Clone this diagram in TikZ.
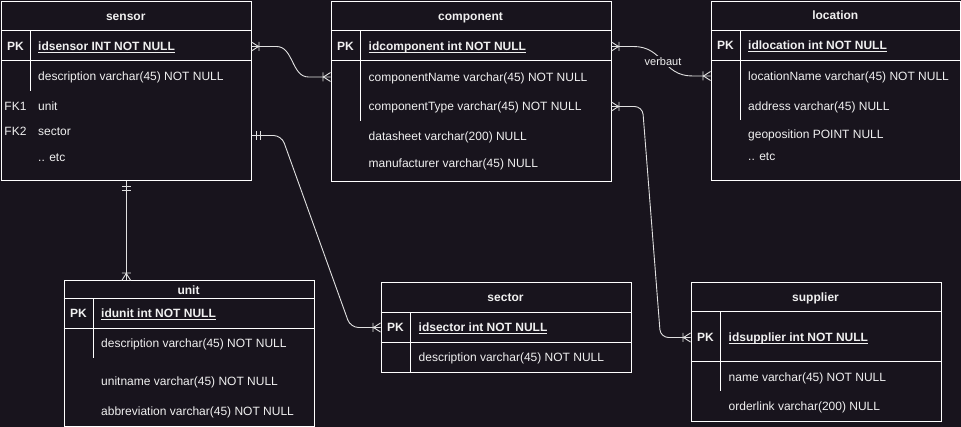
\documentclass[tikz,border=0pt]{standalone}
\usepackage{fontspec}
\setmainfont{Liberation Sans}
\usepackage{xcolor}
\usepackage{tikz}
\usetikzlibrary{arrows.meta, positioning}

\definecolor{bgdark}{HTML}{18141D}
\definecolor{fgtext}{HTML}{F0F0F0}
\definecolor{relgray}{HTML}{E0E0E0}

% underline sitting close to the baseline, as in the schema tool
\newcommand{\pkul}[1]{\setbox0\hbox{#1}\rlap{\rule[-1.6pt]{\wd0}{0.8pt}}\box0}

\begin{document}
\begin{tikzpicture}[
  x=1pt, y=-1pt,
  tbl/.style={draw=white, fill=bgdark, line width=1pt, inner sep=0pt, anchor=north west},
  sep/.style={draw=white, line width=1pt},
  txt/.style={text=fgtext, inner sep=0pt, text height=8.6pt, text depth=0pt,
              font=\fontsize{12}{14}\selectfont},
  hdr/.style={txt, font=\fontsize{12}{14}\selectfont\bfseries},
  key/.style={txt, font=\fontsize{12}{14}\selectfont\bfseries},
  fk/.style={txt},
  fld/.style={txt, anchor=west},
  pkfld/.style={fld, font=\fontsize{12}{14}\selectfont\bfseries},
  rel/.style={draw=relgray, line width=0.9pt},
  lbl/.style={fill=bgdark, text=fgtext, inner sep=1.5pt, font=\fontsize{11}{13}\selectfont},
  onemany/.pic={\draw[relgray, line width=0.9pt] (-7.5,-4.5) -- (-7.5,4.5)
                  (0,-4.5) -- (-7,0) -- (0,4.5);},
  oneone/.pic={\draw[relgray, line width=0.9pt] (-5,-4.5) -- (-5,4.5)
                  (-8.5,-4.5) -- (-8.5,4.5);},
]
\useasboundingbox (0,0) rectangle (961,427);
\fill[bgdark] (0,0) rectangle (961,427);

% tables
\node[tbl, minimum width=249.5pt, minimum height=179pt]   (sensor)    at (1,1.5)     {};
\node[tbl, minimum width=280pt,   minimum height=179.5pt] (component) at (330.5,1.5) {};
\node[tbl, minimum width=249.5pt, minimum height=179.5pt] (location)  at (710.5,1)   {};
\node[tbl, minimum width=250pt,   minimum height=145pt]   (unit)      at (63.5,280.5) {};
\node[tbl, minimum width=250pt,   minimum height=89.5pt]  (sector)    at (380.5,282.5) {};
\node[tbl, minimum width=250pt,   minimum height=138.5pt] (supplier)  at (690.5,282) {};

% row separators and key columns
\draw[sep] (1,31) -- (250.5,31) (1,61) -- (250.5,61) (30.5,31) -- (30.5,91);
\draw[sep] (330.5,31) -- (610.5,31) (330.5,61) -- (610.5,61) (360.5,31) -- (360.5,121);
\draw[sep] (710.5,30.5) -- (960,30.5) (710.5,60.5) -- (960,60.5) (740.5,30.5) -- (740.5,120);
\draw[sep] (63.5,298.5) -- (313.5,298.5) (63.5,328.5) -- (313.5,328.5) (93.5,298.5) -- (93.5,358);
\draw[sep] (380.5,312.5) -- (630.5,312.5) (380.5,342.5) -- (630.5,342.5) (410.5,312.5) -- (410.5,372);
\draw[sep] (690.5,311.5) -- (940.5,311.5) (690.5,361.5) -- (940.5,361.5) (720.5,311.5) -- (720.5,391);

% sensor
\node[hdr]   (s-title) at (125.75,16.5) {sensor};
\node[key]   (s-key)   at (15.5,46.5)   {PK};
\node[pkfld] (s-pk)    at (38,46.5)     {\pkul{idsensor INT NOT NULL}};
\node[fld]   (s-desc)  at (38,76.5)     {description varchar(45) NOT NULL};
\node[fk]    (s-fk1k)  at (15.5,106.5)  {FK1};
\node[fld]   (s-fk1)   at (38,106.5)    {unit};
\node[fk]    (s-fk2k)  at (15.5,131.5)  {FK2};
\node[fld]   (s-fk2)   at (38,131.5)    {sector};
\node[fld]   (s-etc)   at (38,157.5)    {.. etc};

% component
\node[hdr]   (c-title) at (470.5,16.5)  {component};
\node[key]   (c-key)   at (345.5,46.5)  {PK};
\node[pkfld] (c-pk)    at (368.5,46.5)  {\pkul{idcomponent int NOT NULL}};
\node[fld]   (c-name)  at (368.5,77)    {componentName varchar(45) NOT NULL};
\node[fld]   (c-type)  at (368.5,106.5) {componentType varchar(45) NOT NULL};
\node[fld]   (c-sheet) at (368.5,136)   {datasheet varchar(200) NULL};
\node[fld]   (c-manu)  at (368.5,163.5) {manufacturer varchar(45) NULL};

% location
\node[hdr]   (l-title) at (835.25,15.5) {location};
\node[key]   (l-key)   at (725.5,45.5)  {PK};
\node[pkfld] (l-pk)    at (748,45.5)    {\pkul{idlocation int NOT NULL}};
\node[fld]   (l-name)  at (748,76)      {locationName varchar(45) NOT NULL};
\node[fld]   (l-addr)  at (748,106)     {address varchar(45) NULL};
\node[fld]   (l-geo)   at (748,134.5)   {geoposition POINT NULL};
\node[fld]   (l-etc)   at (748,156.5)   {.. etc};

% unit
\node[hdr]   (u-title) at (188.5,290)   {unit};
\node[key]   (u-key)   at (78.5,313.5)  {PK};
\node[pkfld] (u-pk)    at (101,313.5)   {\pkul{idunit int NOT NULL}};
\node[fld]   (u-desc)  at (101,343.5)   {description varchar(45) NOT NULL};
\node[fld]   (u-name)  at (101,381.5)   {unitname varchar(45) NOT NULL};
\node[fld]   (u-abbr)  at (101,411.5)   {abbreviation varchar(45) NOT NULL};

% sector
\node[hdr]   (sec-title) at (505.5,297.5) {sector};
\node[key]   (sec-key)   at (395.5,327.5) {PK};
\node[pkfld] (sec-pk)    at (418.5,327.5) {\pkul{idsector int NOT NULL}};
\node[fld]   (sec-desc)  at (418.5,357.5) {description varchar(45) NOT NULL};

% supplier
\node[hdr]   (sp-title) at (815.5,297)  {supplier};
\node[key]   (sp-key)   at (705.5,337.5) {PK};
\node[pkfld] (sp-pk)    at (728.5,337.5) {\pkul{idsupplier int NOT NULL}};
\node[fld]   (sp-name)  at (728.5,377)   {name varchar(45) NOT NULL};
\node[fld]   (sp-link)  at (728.5,406)   {orderlink varchar(200) NULL};

% relations
\draw[rel] (sensor.east |- s-pk) -- ++(25,0)
  .. controls +(17,0) and +(-17,0) .. ([xshift=-22pt]component.west |- c-name)
  -- (component.west |- c-name);
\draw[rel] (component.east |- c-pk) -- ++(22,0)
  .. controls +(30,0) and +(-30,0) .. ([xshift=-18pt]location.west |- l-name)
  node[lbl, pos=0.5] {verbaut}
  -- (location.west |- l-name);
\draw[rel, rounded corners=8pt] ([yshift=-4pt]sensor.east |- s-fk2) -- ++(30,0)
  -- ([xshift=-30pt]sector.west |- sec-pk) -- (sector.west |- sec-pk);
\draw[rel] (sensor.south) -- (sensor.south |- unit.north);
\draw[rel, rounded corners=8pt] (component.east |- c-type) -- ++(31,0)
  -- ([xshift=-30pt]supplier.west |- sp-pk) -- (supplier.west |- sp-pk);

% relation ends
\pic[rotate=180] at (sensor.east |- s-pk) {onemany};
\pic at (component.west |- c-name) {onemany};
\pic[rotate=180] at (component.east |- c-pk) {onemany};
\pic at (location.west |- l-name) {onemany};
\pic[rotate=180] at ([yshift=-4pt]sensor.east |- s-fk2) {oneone};
\pic at (sector.west |- sec-pk) {onemany};
\pic[rotate=90] at (sensor.south) {oneone};
\pic[rotate=-90] at (sensor.south |- unit.north) {onemany};
\pic[rotate=180] at (component.east |- c-type) {onemany};
\pic at (supplier.west |- sp-pk) {onemany};
\end{tikzpicture}
\end{document}
